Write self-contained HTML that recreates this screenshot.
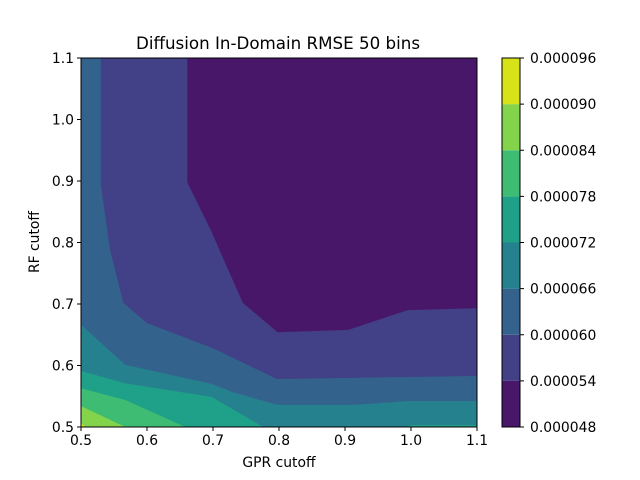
<!DOCTYPE html>
<html><head><meta charset="utf-8">
<style>
html,body{margin:0;padding:0;background:#fff;}
svg{display:block;font-family:"DejaVu Sans","Liberation Sans",sans-serif;}
</style></head>
<body>
<svg id="chart" width="640" height="480" viewBox="0 0 640 480">
<rect width="640" height="480" fill="#fff"/>
<g id="bands"></g>
<g id="axes"></g>
<g id="cbar"></g>
<text x="278" y="49" font-size="16.7" text-anchor="middle">Diffusion In-Domain RMSE 50 bins</text>
<text x="279" y="467" font-size="13.9" text-anchor="middle">GPR cutoff</text>
<text x="39" y="242" font-size="13.9" text-anchor="middle" transform="rotate(-90 39 242)">RF cutoff</text>
</svg>
<script>
// data
const levels = [0.000048,0.000054,0.000060,0.000066,0.000072,0.000078,0.000084,0.000090,0.000096];
const levelLabels = ["0.000048","0.000054","0.000060","0.000066","0.000072","0.000078","0.000084","0.000090","0.000096"];
const bandColors = ["#481769","#424086","#33638d","#26818e","#1fa088","#3fbc73","#84d44b","#d8e219"];
const xTicks = [0.5,0.6,0.7,0.8,0.9,1.0,1.1];
const yTicks = [0.5,0.6,0.7,0.8,0.9,1.0,1.1];
// contour lines (GPR cutoff, RF cutoff) separating band k-1 / k
const contour54 = [[0.661,1.1],[0.661,0.898],[0.698,0.817],[0.745,0.702],[0.798,0.654],[0.905,0.658],[0.995,0.69],[1.1,0.693]];
const contour60 = [[0.530,1.1],[0.530,0.893],[0.544,0.788],[0.564,0.702],[0.6,0.669],[0.7,0.628],[0.797,0.578],[1.1,0.583]];
const contour66 = [[0.5,0.666],[0.567,0.601],[0.698,0.570],[0.729,0.557],[0.797,0.536],[0.915,0.536],[0.995,0.542],[1.1,0.542]];
const contour72 = [[0.5,0.591],[0.567,0.571],[0.698,0.549],[0.776,0.5],[0.995,0.5],[1.0,0.503],[1.1,0.503]];
const contour78 = [[0.5,0.563],[0.567,0.544],[0.658,0.5]];
const contour84 = [[0.5,0.534],[0.567,0.5]];
const contour90 = [[0.5,0.507],[0.506,0.5]];
const contours = [contour54,contour60,contour66,contour72,contour78,contour84,contour90];

const X0=81,X1=477,Y0=427,Y1=58;
const xs=v=>X0+(v-0.5)/0.6*(X1-X0);
const ys=v=>Y0-(v-0.5)/0.6*(Y0-Y1);
const NS="http://www.w3.org/2000/svg";
function mk(tag,attrs,parent){const e=document.createElementNS(NS,tag);for(const k in attrs)e.setAttribute(k,attrs[k]);parent.appendChild(e);return e;}

const bands=document.getElementById('bands');
const base=mk('rect',{x:X0,y:Y1,width:X1-X0,height:Y0-Y1,fill:bandColors[0]},bands);


contours.forEach((c,i)=>{
  let pts=c.map(p=>xs(p[0])+','+ys(p[1]));
  const last=c[c.length-1],first=c[0];
  if(last[0]>=1.1) pts.push(xs(1.1)+','+ys(0.5));
  pts.push(xs(0.5)+','+ys(0.5));
  if(first[1]>=1.1) pts.push(xs(0.5)+','+ys(1.1));
  const p=mk('polygon',{points:pts.join(' '),fill:bandColors[i+1]},bands);
  
  
});

const axes=document.getElementById('axes');
mk('rect',{x:X0,y:Y1,width:X1-X0,height:Y0-Y1,fill:'none',stroke:'#000','stroke-width':1},axes);
xTicks.forEach(t=>{
  const x=xs(t);
  mk('line',{x1:x,y1:Y0,x2:x,y2:Y0+4,stroke:'#000'},axes);
  const tx=mk('text',{x:x,y:Y0+18,'font-size':13.9,'text-anchor':'middle'},axes);
  tx.textContent=t.toFixed(1);
  
  
});
yTicks.forEach(t=>{
  const y=ys(t);
  mk('line',{x1:X0-4,y1:y,x2:X0,y2:y,stroke:'#000'},axes);
  const tx=mk('text',{x:X0-7,y:y+5,'font-size':13.9,'text-anchor':'end'},axes);
  tx.textContent=t.toFixed(1);
  
  
});

const cb=document.getElementById('cbar');
const CX=502,CW=18;
const cy=v=>Y0-(v-levels[0])/(levels[levels.length-1]-levels[0])*(Y0-Y1);
bandColors.forEach((c,i)=>{
  const r=mk('rect',{x:CX,y:cy(levels[i+1]),width:CW,height:cy(levels[i])-cy(levels[i+1]),fill:c},cb);
  
  
});
mk('rect',{x:CX,y:Y1,width:CW,height:Y0-Y1,fill:'none',stroke:'#000'},cb);
levels.forEach((l,i)=>{
  const y=cy(l);
  mk('line',{x1:CX+CW,y1:y,x2:CX+CW+4,y2:y,stroke:'#000'},cb);
  const tx=mk('text',{x:CX+CW+10,y:y+5,'font-size':13.9},cb);
  tx.textContent=levelLabels[i];
  
  
});
</script>
</body></html>
